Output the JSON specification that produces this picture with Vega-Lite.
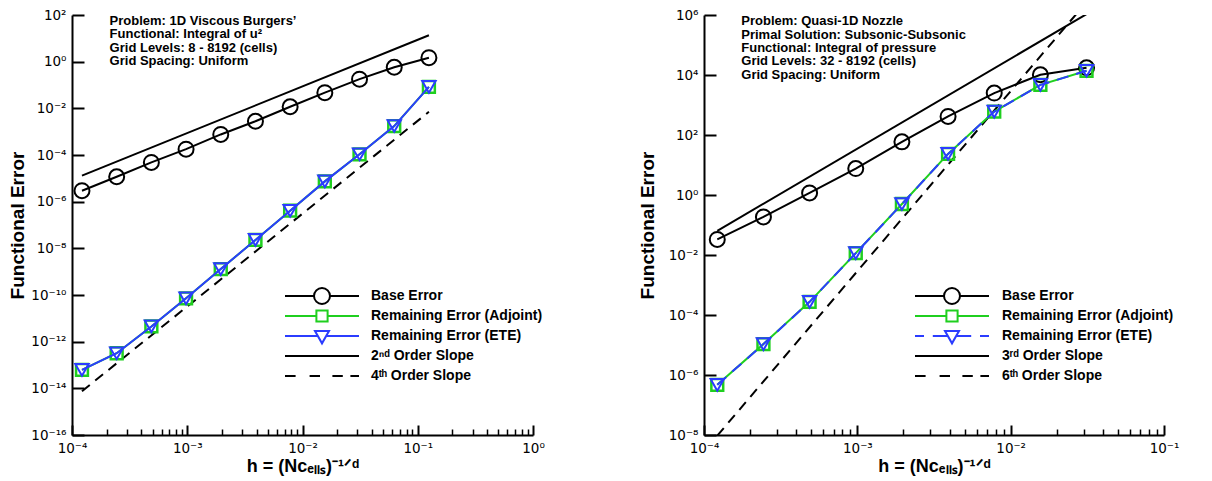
{
  "$schema": "https://vega.github.io/schema/vega-lite/v6.json",
  "padding": {"left": 8, "top": 8, "right": 5, "bottom": 5},
  "bounds": "flush",
  "spacing": 171,
  "resolve": {"scale": {"color": "independent", "shape": "independent"}, "legend": {"color": "independent", "shape": "independent"}},
  "datasets": {
    "left": [
      {"series": "Base Error", "h": 0.0001220703125, "err": 2.95e-6},
      {"series": "Base Error", "h": 0.000244140625, "err": 1.17e-5},
      {"series": "Base Error", "h": 0.00048828125, "err": 4.8e-5},
      {"series": "Base Error", "h": 0.0009765625, "err": 1.78e-4},
      {"series": "Base Error", "h": 0.001953125, "err": 7.6e-4},
      {"series": "Base Error", "h": 0.00390625, "err": 2.8e-3},
      {"series": "Base Error", "h": 0.0078125, "err": 1.17e-2},
      {"series": "Base Error", "h": 0.015625, "err": 4.7e-2},
      {"series": "Base Error", "h": 0.03125, "err": 0.178},
      {"series": "Base Error", "h": 0.0625, "err": 0.575},
      {"series": "Base Error", "h": 0.125, "err": 1.48},
      {"series": "Remaining Error (Adjoint)", "h": 0.0001220703125, "err": 6.2e-14},
      {"series": "Remaining Error (Adjoint)", "h": 0.000244140625, "err": 3.2e-13},
      {"series": "Remaining Error (Adjoint)", "h": 0.00048828125, "err": 4.5e-12},
      {"series": "Remaining Error (Adjoint)", "h": 0.0009765625, "err": 7.2e-11},
      {"series": "Remaining Error (Adjoint)", "h": 0.001953125, "err": 1.29e-9},
      {"series": "Remaining Error (Adjoint)", "h": 0.00390625, "err": 2.3e-8},
      {"series": "Remaining Error (Adjoint)", "h": 0.0078125, "err": 4.1e-7},
      {"series": "Remaining Error (Adjoint)", "h": 0.015625, "err": 7.4e-6},
      {"series": "Remaining Error (Adjoint)", "h": 0.03125, "err": 1.07e-4},
      {"series": "Remaining Error (Adjoint)", "h": 0.0625, "err": 1.74e-3},
      {"series": "Remaining Error (Adjoint)", "h": 0.125, "err": 8.3e-2},
      {"series": "Remaining Error (ETE)", "h": 0.0001220703125, "err": 6.2e-14},
      {"series": "Remaining Error (ETE)", "h": 0.000244140625, "err": 3.2e-13},
      {"series": "Remaining Error (ETE)", "h": 0.00048828125, "err": 4.5e-12},
      {"series": "Remaining Error (ETE)", "h": 0.0009765625, "err": 7.2e-11},
      {"series": "Remaining Error (ETE)", "h": 0.001953125, "err": 1.29e-9},
      {"series": "Remaining Error (ETE)", "h": 0.00390625, "err": 2.3e-8},
      {"series": "Remaining Error (ETE)", "h": 0.0078125, "err": 4.1e-7},
      {"series": "Remaining Error (ETE)", "h": 0.015625, "err": 7.4e-6},
      {"series": "Remaining Error (ETE)", "h": 0.03125, "err": 1.07e-4},
      {"series": "Remaining Error (ETE)", "h": 0.0625, "err": 1.74e-3},
      {"series": "Remaining Error (ETE)", "h": 0.125, "err": 8.3e-2},
      {"series": "2ⁿᵈ Order Slope", "h": 0.0001220703125, "err": 1.3e-5},
      {"series": "2ⁿᵈ Order Slope", "h": 0.125, "err": 13.6},
      {"series": "4ᵗʰ Order Slope", "h": 0.0001220703125, "err": 7.5e-15},
      {"series": "4ᵗʰ Order Slope", "h": 0.125, "err": 7.1e-3}
    ],
    "right": [
      {"series": "Base Error", "h": 0.0001220703125, "err": 0.033},
      {"series": "Base Error", "h": 0.000244140625, "err": 0.186},
      {"series": "Base Error", "h": 0.00048828125, "err": 1.17},
      {"series": "Base Error", "h": 0.0009765625, "err": 7.6},
      {"series": "Base Error", "h": 0.001953125, "err": 59},
      {"series": "Base Error", "h": 0.00390625, "err": 417},
      {"series": "Base Error", "h": 0.0078125, "err": 2500},
      {"series": "Base Error", "h": 0.015625, "err": 10200},
      {"series": "Base Error", "h": 0.03125, "err": 17400},
      {"series": "Remaining Error (Adjoint)", "h": 0.0001220703125, "err": 4.7e-7},
      {"series": "Remaining Error (Adjoint)", "h": 0.000244140625, "err": 1.07e-5},
      {"series": "Remaining Error (Adjoint)", "h": 0.00048828125, "err": 2.75e-4},
      {"series": "Remaining Error (Adjoint)", "h": 0.0009765625, "err": 1.15e-2},
      {"series": "Remaining Error (Adjoint)", "h": 0.001953125, "err": 0.5},
      {"series": "Remaining Error (Adjoint)", "h": 0.00390625, "err": 23.4},
      {"series": "Remaining Error (Adjoint)", "h": 0.0078125, "err": 603},
      {"series": "Remaining Error (Adjoint)", "h": 0.015625, "err": 4680},
      {"series": "Remaining Error (Adjoint)", "h": 0.03125, "err": 13800},
      {"series": "Remaining Error (ETE)", "h": 0.0001220703125, "err": 4.7e-7},
      {"series": "Remaining Error (ETE)", "h": 0.000244140625, "err": 1.07e-5},
      {"series": "Remaining Error (ETE)", "h": 0.00048828125, "err": 2.75e-4},
      {"series": "Remaining Error (ETE)", "h": 0.0009765625, "err": 1.15e-2},
      {"series": "Remaining Error (ETE)", "h": 0.001953125, "err": 0.5},
      {"series": "Remaining Error (ETE)", "h": 0.00390625, "err": 23.4},
      {"series": "Remaining Error (ETE)", "h": 0.0078125, "err": 603},
      {"series": "Remaining Error (ETE)", "h": 0.015625, "err": 4680},
      {"series": "Remaining Error (ETE)", "h": 0.03125, "err": 13800},
      {"series": "3ʳᵈ Order Slope", "h": 0.0001220703125, "err": 0.064},
      {"series": "3ʳᵈ Order Slope", "h": 0.03125, "err": 1070000},
      {"series": "6ᵗʰ Order Slope", "h": 0.0001220703125, "err": 9.5e-9},
      {"series": "6ᵗʰ Order Slope", "h": 0.03125, "err": 2700000}
    ]
  },
  "hconcat": [
    {
      "width": 461,
      "height": 420,
      "data": {"name": "left"},
      "encoding": {
        "x": {
          "field": "h", "type": "quantitative",
          "scale": {"type": "log", "domain": [0.0001, 1], "nice": false},
          "axis": {
            "values": [0.0001,0.0002,0.0003,0.0004,0.0005,0.0006,0.0007,0.0008,0.0009,0.001,0.002,0.003,0.004,0.005,0.006,0.007,0.008,0.009,0.01,0.02,0.03,0.04,0.05,0.06,0.07,0.08,0.09,0.1,0.2,0.3,0.4,0.5,0.6,0.7,0.8,0.9,1],
            "labelExpr": "abs(log(datum.value)/LN10 - round(log(datum.value)/LN10)) < 0.001 ? '10' + (round(log(datum.value)/LN10) < 0 ? '⁻' : '') + (abs(round(log(datum.value)/LN10)) >= 10 ? '¹' : '') + substring('⁰¹²³⁴⁵⁶⁷⁸⁹', abs(round(log(datum.value)/LN10)) % 10, abs(round(log(datum.value)/LN10)) % 10 + 1) : ''",
            "tickSize": {"condition": {"test": "abs(log(datum.value)/LN10 - round(log(datum.value)/LN10)) < 0.001", "value": -10}, "value": -6},
            "tickWidth": {"condition": {"test": "abs(log(datum.value)/LN10 - round(log(datum.value)/LN10)) < 0.001", "value": 2}, "value": 1.5},
            "labelPadding": 16,
            "title": "h = (Nᴄₑₗₗₛ)⁻¹ᐟᵈ",
            "titleFontSize": 18,
            "titleY": 36,
            "titleBaseline": "alphabetic"
          }
        },
        "y": {
          "field": "err", "type": "quantitative",
          "scale": {"type": "log", "domain": [1e-16, 100], "nice": false},
          "axis": {
            "values": [1e-16, 1e-14, 1e-12, 1e-10, 1e-8, 1e-6, 1e-4, 0.01, 1, 100],
            "labelExpr": "'10' + (round(log(datum.value)/LN10) < 0 ? '⁻' : '') + (abs(round(log(datum.value)/LN10)) >= 10 ? '¹' : '') + substring('⁰¹²³⁴⁵⁶⁷⁸⁹', abs(round(log(datum.value)/LN10)) % 10, abs(round(log(datum.value)/LN10)) % 10 + 1)",
            "tickSize": -12,
            "tickWidth": 2,
            "labelPadding": 18,
            "title": "Functional Error",
            "titleFontSize": 19,
            "titleX": -55,
            "titleBaseline": "middle"
          }
        }
      },
      "layer": [
        {"transform": [{"filter": {"field": "series", "equal": "2ⁿᵈ Order Slope"}}],
         "mark": {"type": "line", "color": "black", "strokeWidth": 2}},
        {"transform": [{"filter": {"field": "series", "equal": "4ᵗʰ Order Slope"}}],
         "mark": {"type": "line", "color": "black", "strokeWidth": 2, "strokeDash": [10, 7]}},
        {"transform": [{"filter": {"field": "series", "equal": "Base Error"}}],
         "mark": {"type": "line", "color": "black", "strokeWidth": 2}},
        {"transform": [{"filter": {"field": "series", "equal": "Base Error"}}],
         "mark": {"type": "point", "shape": "circle", "filled": false, "color": "black", "strokeWidth": 2, "size": 225, "opacity": 1}},
        {"transform": [{"filter": {"field": "series", "equal": "Remaining Error (Adjoint)"}}],
         "mark": {"type": "line", "color": "#1fcf1f", "strokeWidth": 2}},
        {"transform": [{"filter": {"field": "series", "equal": "Remaining Error (Adjoint)"}}],
         "mark": {"type": "point", "shape": "square", "filled": false, "color": "#1fcf1f", "strokeWidth": 2.5, "size": 140, "opacity": 1}},
        {"transform": [{"filter": {"field": "series", "equal": "Remaining Error (ETE)"}}],
         "mark": {"type": "line", "color": "#2b3cff", "strokeWidth": 2}},
        {"transform": [{"filter": {"field": "series", "equal": "Remaining Error (ETE)"}}],
         "mark": {"type": "point", "shape": "triangle-down", "filled": false, "color": "#2b3cff", "strokeWidth": 2, "size": 180, "opacity": 1}},
        {"transform": [{"filter": {"field": "h", "equal": 0.125}}, {"filter": {"field": "series", "equal": "Base Error"}}],
         "mark": {"type": "text", "align": "left", "baseline": "alphabetic", "font": "Liberation Sans", "fontSize": 13, "fontWeight": "bold", "lineHeight": 13.3, "color": "black", "text": ["Problem: 1D Viscous Burgers’", "Functional: Integral of u²", "Grid Levels: 8 - 8192 (cells)", "Grid Spacing: Uniform"]},
         "encoding": {"x": {"datum": 0.000212, "type": "quantitative"}, "y": {"datum": 37, "type": "quantitative"}}},
        {"transform": [{"filter": "false"}],
         "mark": {"type": "point", "filled": false, "strokeWidth": 2, "opacity": 1},
         "encoding": {
           "color": {"field": "series", "type": "nominal",
             "scale": {"domain": ["Base Error", "Remaining Error (Adjoint)", "Remaining Error (ETE)", "2ⁿᵈ Order Slope", "4ᵗʰ Order Slope"],
                       "range": ["black", "#1fcf1f", "#2b3cff", "black", "black"]},
             "legend": {"orient": "none", "legendX": 211, "legendY": 271, "title": null, "padding": 0, "symbolSize": 256, "symbolStrokeWidth": 2, "symbolOpacity": 1, "symbolOffset": 30, "labelFont": "Liberation Sans", "labelFontSize": 14, "labelFontWeight": "bold", "labelColor": "black", "labelLimit": 400, "labelOffset": 40, "rowPadding": 0, "clipHeight": 20}},
           "shape": {"field": "series", "type": "nominal",
             "scale": {"domain": ["Base Error", "Remaining Error (Adjoint)", "Remaining Error (ETE)", "2ⁿᵈ Order Slope", "4ᵗʰ Order Slope"],
                       "range": ["M-4.625,0H-1M1,0H4.625M-1,0A1,1,0,1,1,1,0A1,1,0,1,1,-1,0", "M-4.625,0H-0.7M0.7,0H4.625M-0.7,-0.7H0.7V0.7H-0.7Z", "M-4.625,0H-0.52M0.52,0H4.625M-0.875,-0.625H0.875L0,0.92Z", "M-4.625,0H4.625", "M-4.625,0H-3.3M-1.55,0H-0.25M1.3,0H2.6M3.55,0H4.625"]},
             "legend": {"orient": "none", "legendX": 211, "legendY": 271, "title": null, "padding": 0, "symbolSize": 256, "symbolStrokeWidth": 2, "symbolOpacity": 1, "symbolOffset": 30, "labelFont": "Liberation Sans", "labelFontSize": 14, "labelFontWeight": "bold", "labelColor": "black", "labelLimit": 400, "labelOffset": 40, "rowPadding": 0, "clipHeight": 20}}
         }}
      ]
    },
    {
      "width": 460,
      "height": 420,
      "data": {"name": "right"},
      "encoding": {
        "x": {
          "field": "h", "type": "quantitative",
          "scale": {"type": "log", "domain": [0.0001, 0.1], "nice": false},
          "axis": {
            "values": [0.0001,0.0002,0.0003,0.0004,0.0005,0.0006,0.0007,0.0008,0.0009,0.001,0.002,0.003,0.004,0.005,0.006,0.007,0.008,0.009,0.01,0.02,0.03,0.04,0.05,0.06,0.07,0.08,0.09,0.1],
            "labelExpr": "abs(log(datum.value)/LN10 - round(log(datum.value)/LN10)) < 0.001 ? '10' + (round(log(datum.value)/LN10) < 0 ? '⁻' : '') + (abs(round(log(datum.value)/LN10)) >= 10 ? '¹' : '') + substring('⁰¹²³⁴⁵⁶⁷⁸⁹', abs(round(log(datum.value)/LN10)) % 10, abs(round(log(datum.value)/LN10)) % 10 + 1) : ''",
            "tickSize": {"condition": {"test": "abs(log(datum.value)/LN10 - round(log(datum.value)/LN10)) < 0.001", "value": -10}, "value": -6},
            "tickWidth": {"condition": {"test": "abs(log(datum.value)/LN10 - round(log(datum.value)/LN10)) < 0.001", "value": 2}, "value": 1.5},
            "labelPadding": 16,
            "title": "h = (Nᴄₑₗₗₛ)⁻¹ᐟᵈ",
            "titleFontSize": 18,
            "titleY": 36,
            "titleBaseline": "alphabetic"
          }
        },
        "y": {
          "field": "err", "type": "quantitative",
          "scale": {"type": "log", "domain": [1e-8, 1000000], "nice": false},
          "axis": {
            "values": [1e-8, 1e-6, 1e-4, 0.01, 1, 100, 10000, 1000000],
            "labelExpr": "'10' + (round(log(datum.value)/LN10) < 0 ? '⁻' : '') + (abs(round(log(datum.value)/LN10)) >= 10 ? '¹' : '') + substring('⁰¹²³⁴⁵⁶⁷⁸⁹', abs(round(log(datum.value)/LN10)) % 10, abs(round(log(datum.value)/LN10)) % 10 + 1)",
            "tickSize": -12,
            "tickWidth": 2,
            "labelPadding": 18,
            "title": "Functional Error",
            "titleFontSize": 19,
            "titleX": -57,
            "titleBaseline": "middle"
          }
        }
      },
      "layer": [
        {"transform": [{"filter": {"field": "series", "equal": "3ʳᵈ Order Slope"}}],
         "mark": {"type": "line", "color": "black", "strokeWidth": 2, "clip": true}},
        {"transform": [{"filter": {"field": "series", "equal": "6ᵗʰ Order Slope"}}],
         "mark": {"type": "line", "color": "black", "strokeWidth": 2, "strokeDash": [10, 7], "clip": true}},
        {"transform": [{"filter": {"field": "series", "equal": "Base Error"}}],
         "mark": {"type": "line", "color": "black", "strokeWidth": 2}},
        {"transform": [{"filter": {"field": "series", "equal": "Base Error"}}],
         "mark": {"type": "point", "shape": "circle", "filled": false, "color": "black", "strokeWidth": 2, "size": 225, "opacity": 1}},
        {"transform": [{"filter": {"field": "series", "equal": "Remaining Error (Adjoint)"}}],
         "mark": {"type": "line", "color": "#1fcf1f", "strokeWidth": 2}},
        {"transform": [{"filter": {"field": "series", "equal": "Remaining Error (Adjoint)"}}],
         "mark": {"type": "point", "shape": "square", "filled": false, "color": "#1fcf1f", "strokeWidth": 2.5, "size": 140, "opacity": 1}},
        {"transform": [{"filter": {"field": "series", "equal": "Remaining Error (ETE)"}}],
         "mark": {"type": "line", "color": "#2b3cff", "strokeWidth": 2, "strokeDash": [12, 8]}},
        {"transform": [{"filter": {"field": "series", "equal": "Remaining Error (ETE)"}}],
         "mark": {"type": "point", "shape": "triangle-down", "filled": false, "color": "#2b3cff", "strokeWidth": 2, "size": 180, "opacity": 1}},
        {"transform": [{"filter": {"field": "h", "equal": 0.03125}}, {"filter": {"field": "series", "equal": "Base Error"}}],
         "mark": {"type": "text", "align": "left", "baseline": "alphabetic", "font": "Liberation Sans", "fontSize": 13, "fontWeight": "bold", "lineHeight": 13.3, "color": "black", "text": ["Problem: Quasi-1D Nozzle", "Primal Solution: Subsonic-Subsonic", "Functional: Integral of pressure", "Grid Levels: 32 - 8192 (cells)", "Grid Spacing: Uniform"]},
         "encoding": {"x": {"datum": 0.000175, "type": "quantitative"}, "y": {"datum": 447000, "type": "quantitative"}}},
        {"transform": [{"filter": "false"}],
         "mark": {"type": "point", "filled": false, "strokeWidth": 2, "opacity": 1},
         "encoding": {
           "color": {"field": "series", "type": "nominal",
             "scale": {"domain": ["Base Error", "Remaining Error (Adjoint)", "Remaining Error (ETE)", "3ʳᵈ Order Slope", "6ᵗʰ Order Slope"],
                       "range": ["black", "#1fcf1f", "#2b3cff", "black", "black"]},
             "legend": {"orient": "none", "legendX": 209, "legendY": 271, "title": null, "padding": 0, "symbolSize": 256, "symbolStrokeWidth": 2, "symbolOpacity": 1, "symbolOffset": 30, "labelFont": "Liberation Sans", "labelFontSize": 14, "labelFontWeight": "bold", "labelColor": "black", "labelLimit": 400, "labelOffset": 41, "rowPadding": 0, "clipHeight": 20}},
           "shape": {"field": "series", "type": "nominal",
             "scale": {"domain": ["Base Error", "Remaining Error (Adjoint)", "Remaining Error (ETE)", "3ʳᵈ Order Slope", "6ᵗʰ Order Slope"],
                       "range": ["M-4.625,0H-1M1,0H4.625M-1,0A1,1,0,1,1,1,0A1,1,0,1,1,-1,0", "M-4.625,0H-0.7M0.7,0H4.625M-0.7,-0.7H0.7V0.7H-0.7Z", "M-4.625,0H-3.5M-2.4,0H-0.52M0.52,0H2.4M3.5,0H4.625M-0.875,-0.625H0.875L0,0.92Z", "M-4.625,0H4.625", "M-4.625,0H-3.3M-1.55,0H-0.25M1.3,0H2.6M3.55,0H4.625"]},
             "legend": {"orient": "none", "legendX": 209, "legendY": 271, "title": null, "padding": 0, "symbolSize": 256, "symbolStrokeWidth": 2, "symbolOpacity": 1, "symbolOffset": 30, "labelFont": "Liberation Sans", "labelFontSize": 14, "labelFontWeight": "bold", "labelColor": "black", "labelLimit": 400, "labelOffset": 41, "rowPadding": 0, "clipHeight": 20}}
         }}
      ]
    }
  ],
  "config": {
    "view": {"stroke": null},
    "axis": {
      "domainColor": "black", "domainWidth": 2, "tickColor": "black", "grid": false,
      "labelFont": "DejaVu Sans", "labelFontSize": 13.5, "labelColor": "black",
      "labelOverlap": false, "labelFlush": false, "labelBound": false,
      "titleFont": "Liberation Sans", "titleFontWeight": "bold", "titleColor": "black"
    }
  }
}
